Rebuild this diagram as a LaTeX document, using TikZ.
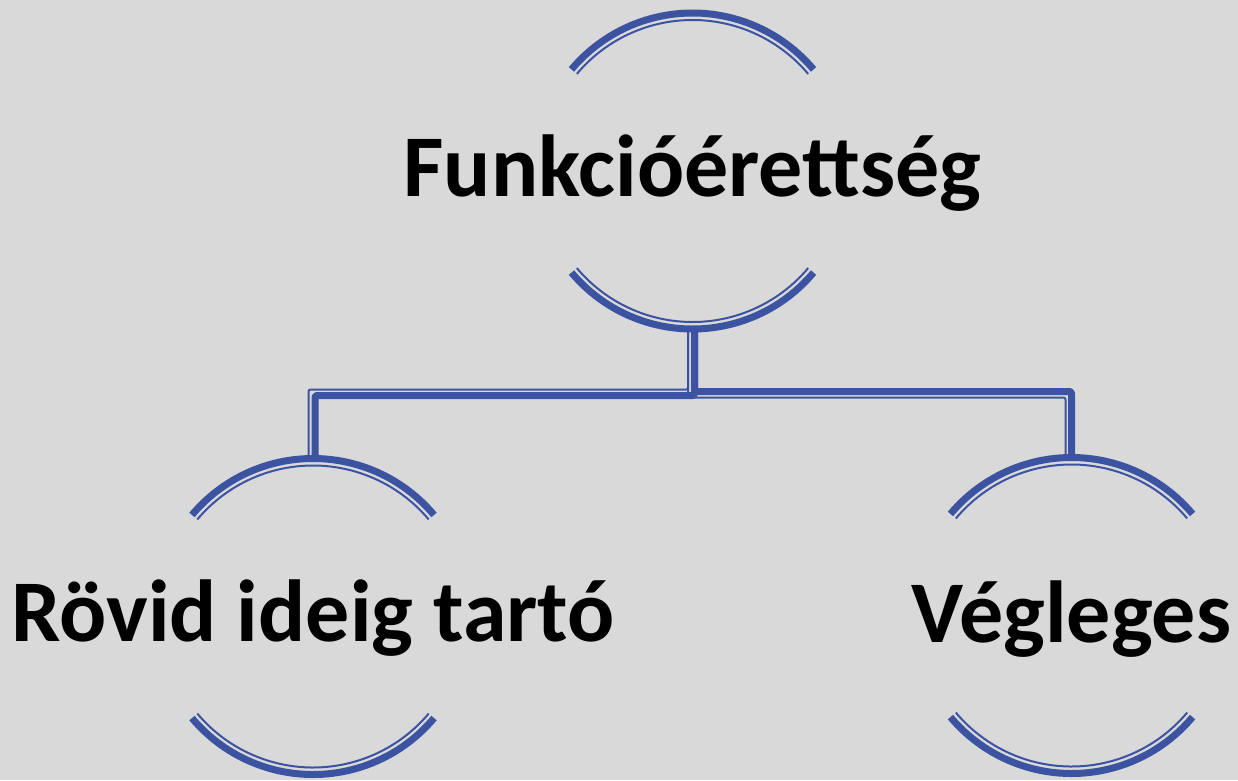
\documentclass[tikz,border=0pt]{standalone}
\usepackage{fontspec}
\setmainfont{Carlito}
\usetikzlibrary{calc}
\definecolor{bg}{RGB}{217,217,217}
\definecolor{archblue}{RGB}{60,83,162}
\tikzset{
  thickline/.style={draw=archblue, line width=7pt, line cap=butt, line join=round},
  thinline/.style={draw=archblue, line width=2pt, line cap=butt, line join=round},
  label/.style={font=\fontsize{88}{90}\selectfont\bfseries, text=black, inner sep=0pt, anchor=base}
}
\begin{document}
\begin{tikzpicture}[x=1pt,y=-1pt]
  \fill[bg] (0,0) rectangle (1238,780);
  \useasboundingbox (0,0) rectangle (1238,780);

  % centres of the three circular frames
  \coordinate (ctop) at (692.5,171);
  \coordinate (cleft) at (313,616.5);
  \coordinate (cright) at (1071.5,615.5);

  % labels
  \node[label] (top) at (692.5,196) {Funkcióérettség};
  \node[label] (left) at (313,641) {Rövid ideig tartó};
  \node[label] (right) at (1071.5,642) {Végleges};

  % upper and lower arcs around every label: thick outer stroke, thin inner stroke
  \foreach \c in {ctop,cleft,cright}{
    \draw[thickline] ($(\c)+(40:158)$) arc[start angle=40, end angle=140, radius=158];
    \draw[thinline]  ($(\c)+(40:151)$) arc[start angle=40, end angle=140, radius=151];
    \draw[thickline] ($(\c)+(-40:158)$) arc[start angle=-40, end angle=-140, radius=158];
    \draw[thinline]  ($(\c)+(-40:151)$) arc[start angle=-40, end angle=-140, radius=151];
  }

  % connector points
  \coordinate (stemtop) at ($(ctop)+(0,158)$);
  \coordinate (ltop) at ($(cleft)+(0,-158)$);
  \coordinate (rtop) at ($(cright)+(0,-158)$);

  % connector to the left child
  \draw[thickline, rounded corners=2pt] ($(stemtop)+(2,0)$) |- ($(ltop)+(2,-63)$) -- ($(ltop)+(2,0)$);
  \draw[thinline, rounded corners=2pt] ($(stemtop)+(-4.5,-3)$) |- ($(ltop)+(-4.5,-69)$) -- ($(ltop)+(-4.5,3)$);

  % connector to the right child
  \draw[thickline, rounded corners=2pt] ($(stemtop)+(2,0)$) |- ($(rtop)+(0,-66)$) -- (rtop);
  \draw[thinline, rounded corners=2pt] ($(stemtop)+(-4.5,-3)$) |- ($(rtop)+(-6,-60)$) -- ($(rtop)+(-6,3)$);
\end{tikzpicture}
\end{document}
